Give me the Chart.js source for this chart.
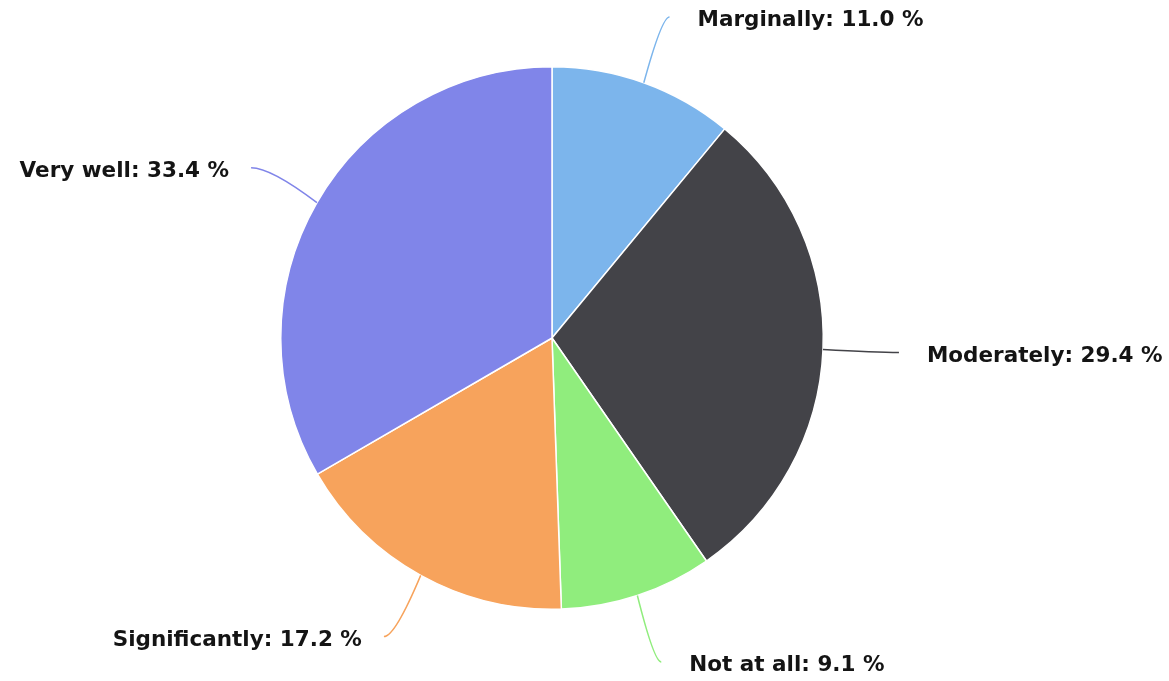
<!DOCTYPE html>
<html>
<head>
<meta charset="utf-8">
<script src="https://cdn.jsdelivr.net/npm/chart.js@4/dist/chart.umd.min.js"></script>
<style>
  html, body { margin: 0; padding: 0; background: #ffffff; }
  #wrap { width: 1169px; height: 681px; position: relative; }
</style>
</head>
<body>
<div id="wrap"><canvas id="pie"></canvas></div>
<script>
const categories = ['Marginally', 'Moderately', 'Not at all', 'Significantly', 'Very well'];
const shares = [11.0, 29.4, 9.1, 17.2, 33.4];
const sliceColors = ['#7cb5ec', '#434348', '#90ed7d', '#f7a35c', '#8085e9'];

// draws "Name: xx.x %" labels with curved connectors, highcharts style
const pieLabels = {
    id: 'pieLabels',
    afterDatasetsDraw(chart) {
        const ctx = chart.ctx;
        const meta = chart.getDatasetMeta(0);
        ctx.save();
        ctx.font = 'bold 21.5px "DejaVu Sans", Verdana, sans-serif';
        ctx.textBaseline = 'middle';
        meta.data.forEach((arc, i) => {
            const p = arc.getProps(['x', 'y', 'startAngle', 'endAngle', 'outerRadius'], true);
            const mid = (p.startAngle + p.endAngle) / 2;
            const dx = Math.cos(mid), dy = Math.sin(mid);
            const sx = p.x + dx * p.outerRadius;
            const sy = p.y + dy * p.outerRadius;
            const ex = p.x + dx * (p.outerRadius + 76);
            const ey = p.y + dy * (p.outerRadius + 70);
            const right = dx >= 0;
            ctx.strokeStyle = sliceColors[i];
            ctx.lineWidth = 1.5;
            ctx.beginPath();
            ctx.moveTo(sx, sy);
            ctx.quadraticCurveTo(sx + (ex - sx) * 0.7, ey, ex, ey);
            ctx.stroke();
            const text = categories[i] + ': ' + shares[i].toFixed(1) + ' %';
            ctx.fillStyle = '#141414';
            ctx.textAlign = right ? 'left' : 'right';
            ctx.fillText(text, ex + (right ? 28 : -22), ey + 4);
        });
        ctx.restore();
    }
};

new Chart(document.getElementById('pie'), {
    type: 'pie',
    data: {
        labels: categories,
        datasets: [{
            data: shares,
            backgroundColor: sliceColors,
            borderColor: '#ffffff',
            borderWidth: 1.5
        }]
    },
    options: {
        responsive: true,
        maintainAspectRatio: false,
        animation: false,
        layout: { padding: { top: 66, bottom: 71, left: 280, right: 345 } },
        plugins: {
            legend: { display: false },
            tooltip: { enabled: false }
        }
    },
    plugins: [pieLabels]
});
</script>
</body>
</html>
